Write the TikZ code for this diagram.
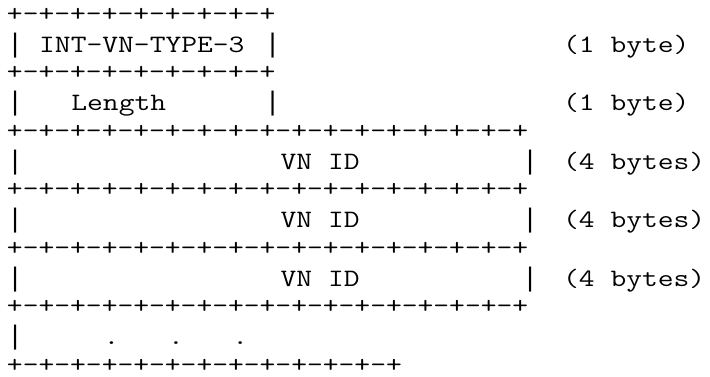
\documentclass[tikz,border=0pt]{standalone}
\usepackage{fontspec}
\newfontfamily\barfont{Liberation Mono}
\begin{document}
% Field layout drawn as fixed-pitch typewriter text on a character grid:
% column pitch \cw, row pitch \rh; text baselines sit \bo below a row's
% centre, the +-+ rules \ro below it (so the plus signs are centred).
\def\cw{16.1}
\def\rh{29.25}
\def\xo{7}
\def\yo{15}
\def\bo{7.8}
\def\ro{6.3}
\begin{tikzpicture}[x=1pt,y=-1pt,
  cell/.style={anchor=base west,inner sep=0pt,outer sep=0pt,
    font=\ttfamily\fontsize{25pt}{29.25pt}\selectfont,text=black,
    xscale=1.2267},
  barcell/.style={anchor=base west,inner sep=0pt,outer sep=0pt,
    font=\barfont\fontsize{26.83pt}{29.25pt}\selectfont,text=black},
  % size notes in the right-hand column, nudged in from the page edge
  sizenote/.style={cell,xshift=-6pt}]
\useasboundingbox (0,0) rectangle (710,376);
% text #4 named #1 at column #2, row #3
\newcommand\gridtext[4]{\node[cell] (#1) at ({\xo+#2*\cw},{\yo+#3*\rh+\bo}) {#4};}
% size note #3 named #1 on row #2
\newcommand\gridsize[3]{\node[sizenote] (#1) at ({\xo+35*\cw},{\yo+#2*\rh+\bo}) {#3};}
% vertical bar named #1 at column #2, row #3 (full-height glyph)
\newcommand\gridbar[3]{\node[barcell] (#1) at ({\xo+#2*\cw},{\yo+#3*\rh+\bo}) {|};}
% border rule #3 named #1 on row #2 (box kept to the rule's own line)
\newcommand\gridrule[3]{\node[cell] (#1) at ({\xo},{\yo+#2*\rh+\ro}) {\smash{#3}};}
\def\shortrule{+-+-+-+-+-+-+-+-+}
\def\longrule{+-+-+-+-+-+-+-+-+-+-+-+-+-+-+-+-+}
\def\tailrule{+-+-+-+-+-+-+-+-+-+-+-+-+}
% type octet
\gridrule{top}{0}{\shortrule}
\gridbar{typeL}{0}{1}
\gridtext{type}{2}{1}{INT-VN-TYPE-3}
\gridbar{typeR}{16}{1}
\gridsize{typeSz}{1}{(1 byte)}
% length octet
\gridrule{sepA}{2}{\shortrule}
\gridbar{lenL}{0}{3}
\gridtext{len}{4}{3}{Length}
\gridbar{lenR}{16}{3}
\gridsize{lenSz}{3}{(1 byte)}
% VN ID words
\gridrule{sepB}{4}{\longrule}
\gridbar{vnaL}{0}{5}
\gridtext{vna}{17}{5}{VN ID}
\gridbar{vnaR}{32}{5}
\gridsize{vnaSz}{5}{(4 bytes)}
\gridrule{sepC}{6}{\longrule}
\gridbar{vnbL}{0}{7}
\gridtext{vnb}{17}{7}{VN ID}
\gridbar{vnbR}{32}{7}
\gridsize{vnbSz}{7}{(4 bytes)}
\gridrule{sepD}{8}{\longrule}
\gridbar{vncL}{0}{9}
\gridtext{vnc}{17}{9}{VN ID}
\gridbar{vncR}{32}{9}
\gridsize{vncSz}{9}{(4 bytes)}
\gridrule{sepE}{10}{\longrule}
% continuation
\gridbar{moreL}{0}{11}
\gridtext{dotA}{6}{11}{.}
\gridtext{dotB}{10}{11}{.}
\gridtext{dotC}{14}{11}{.}
\gridrule{bottom}{12}{\tailrule}
\end{tikzpicture}
\end{document}
